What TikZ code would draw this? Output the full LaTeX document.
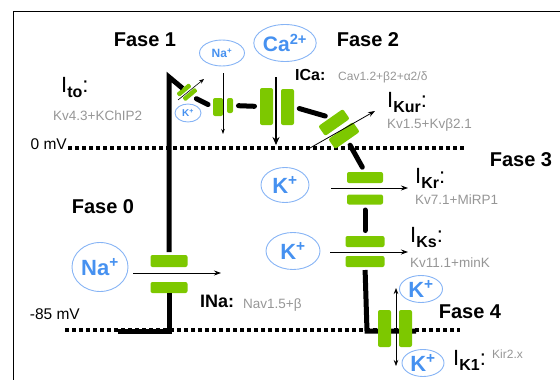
\documentclass[tikz,border=0pt]{standalone}
\usepackage{fontspec}
\setmainfont{Liberation Sans}
\usetikzlibrary{shapes.geometric, arrows.meta, positioning}
\definecolor{chgreen}{RGB}{125,200,0}
\definecolor{ionblue}{RGB}{70,145,240}
\definecolor{ionring}{RGB}{135,180,245}
\definecolor{genegray}{RGB}{150,150,150}
\newcommand{\cur}[1]{\fontsize{22}{24}\selectfont I\raisebox{-5pt}{\fontsize{16}{18}\selectfont\bfseries #1}:}
\tikzset{
  gate/.style={fill=chgreen, rounded corners=2pt, inner sep=0pt, outer sep=0pt},
  ion/.style={ellipse, draw=ionring, line width=0.9pt, text=ionblue, inner sep=0pt},
  phase/.style={font=\fontsize{20}{22}\selectfont\bfseries},
  gene/.style={anchor=base west, inner sep=0pt, text=genegray, font=\fontsize{13.5}{15}\selectfont},
  curlbl/.style={anchor=base west, inner sep=0pt},
  mvlbl/.style={anchor=base east, inner sep=0pt, font=\fontsize{15.5}{17}\selectfont},
  flux/.style={line width=0.8pt, -{Stealth[length=7pt, width=5pt]}},
  ap/.style={line width=5pt},
  link/.style={ap, line cap=round, shorten <=5.5pt, shorten >=5.5pt},
  mvline/.style={line width=3.3pt, dash pattern=on 4pt off 3pt}
}

\begin{document}
\begin{tikzpicture}[x=1pt, y=-1pt]
    \useasboundingbox (0,0) rectangle (560,380);
    \draw[line width=1pt] (13,380) -- (13,11) -- (560,11);

    % potential levels
    \coordinate (zeroL) at (68,148);
    \coordinate (zeroR) at (464,148);
    \coordinate (restL) at (65,330);
    \coordinate (restR) at (460,330);
    \draw[mvline] (zeroL) -- (zeroR);
    \draw[mvline] (restL) -- (restR);
    \node[mvlbl] (zeroLbl) at (67,149) {0 mV};
    \node[mvlbl] (restLbl) at (80,319) {-85 mV};

    % channels
    \node[gate, minimum width=37pt, minimum height=12pt] (naA) at (169,261) {};
    \node[gate, minimum width=37pt, minimum height=11pt] (naB) at (169,287.5) {};
    \node[gate, minimum width=16pt, minimum height=4.5pt, rounded corners=1pt, rotate=40] (itoA) at (184,90) {};
    \node[gate, minimum width=16pt, minimum height=4.5pt, rounded corners=1pt, rotate=40] (itoB) at (190,94.5) {};
    \node[gate, minimum width=10pt, minimum height=18pt] (nsA) at (218,107) {};
    \node[gate, minimum width=6pt, minimum height=15pt] (nsB) at (230,105.5) {};
    \node[gate, minimum width=13pt, minimum height=37pt] (caA) at (266.5,106.5) {};
    \node[gate, minimum width=13pt, minimum height=36pt] (caB) at (287.5,107) {};
    \node[gate, minimum width=30pt, minimum height=12pt, rotate=35] (kurA) at (334,122.5) {};
    \node[gate, minimum width=30pt, minimum height=12pt, rotate=35] (kurB) at (344,135.5) {};
    \node[gate, minimum width=36pt, minimum height=11pt] (krA) at (365,177.5) {};
    \node[gate, minimum width=36pt, minimum height=10pt] (krB) at (365,199.5) {};
    \node[gate, minimum width=39pt, minimum height=11pt] (ksA) at (365,241.5) {};
    \node[gate, minimum width=39pt, minimum height=11pt] (ksB) at (365,261.5) {};

    % action potential
    \coordinate (start) at (118,331);
    \coordinate (foot) at (169,331);
    \coordinate (peak) at (169,77);
    \coordinate (bend) at (367,331);
    \coordinate (tail) at (416,331);
    \draw[ap] (start) -- (foot) -- (naB.south);
    \draw[ap, shorten <=3pt] (naA.north) -- (peak) -- (itoA.north);
    \draw[link] (itoB.south) -- (nsA.west);
    \draw[link] (nsB.east) -- (caA.west);
    \draw[link] (caB.east) -- (kurA.north);
    \draw[link] (kurB.south) -- (krA.north);
    \draw[link] (krB.south) -- (ksA.north);
    \draw[ap, shorten <=3pt] (ksB.south) -- (bend) -- (tail);

    \node[gate, minimum width=13pt, minimum height=37pt] (kiA) at (384.5,328.5) {};
    \node[gate, minimum width=13pt, minimum height=37pt] (kiB) at (405.5,328.5) {};

    % ion fluxes
    \coordinate (naIn) at (133,273);
    \coordinate (naOut) at (221,273);
    \coordinate (itoIn) at (178,100);
    \coordinate (itoOut) at (204,79);
    \coordinate (nsIn) at (223,73);
    \coordinate (nsOut) at (223,134);
    \coordinate (caIn) at (276,77);
    \coordinate (caOut) at (276,145);
    \coordinate (kurIn) at (310,148);
    \coordinate (kurOut) at (375,111);
    \coordinate (krIn) at (331,188);
    \coordinate (krOut) at (408,188);
    \coordinate (ksIn) at (330,252);
    \coordinate (ksOut) at (408,252);
    \coordinate (kiUp) at (396,288);
    \coordinate (kiDn) at (396,366);
    \draw[flux] (naIn) -- (naOut);
    \draw[flux, line width=0.6pt, -{Stealth[length=5pt, width=4pt]}] (itoIn) -- (itoOut);
    \draw[flux, line width=0.6pt, -{Stealth[length=5pt, width=3.5pt]}] (nsIn) -- (nsOut);
    \draw[flux, line width=1.5pt, -{Stealth[length=8pt, width=7pt]}] (caIn) -- (caOut);
    \draw[flux] (kurIn) -- (kurOut);
    \draw[flux] (krIn) -- (krOut);
    \draw[flux] (ksIn) -- (ksOut);
    \draw[flux, line width=0.7pt, {Stealth[length=6pt, width=4.5pt]}-{Stealth[length=6pt, width=4.5pt]}] (kiUp) -- (kiDn);

    % phases
    \node[phase] (ph1) at (145,40) {Fase 1};
    \node[phase] (ph2) at (368,40) {Fase 2};
    \node[phase] (ph3) at (521,160) {Fase 3};
    \node[phase] (ph0) at (103,207) {Fase 0};
    \node[phase] (ph4) at (470,312) {Fase 4};

    % currents
    \node[curlbl] (ito) at (61,92) {\cur{to}};
    \node[curlbl] (iKur) at (387,107) {\cur{Kur}};
    \node[curlbl] (iKr) at (415,183) {\cur{Kr}};
    \node[curlbl] (iKs) at (410,242) {\cur{Ks}};
    \node[curlbl] (iK1) at (453,365) {\cur{K1}};
    \node[curlbl, font=\fontsize{18}{20}\selectfont\bfseries] (iNa) at (200,307) {INa:};
    \node[curlbl, font=\fontsize{16}{18}\selectfont\bfseries] (iCa) at (295,80) {ICa:};

    % subunits
    \node[gene] (itoGene) at (53,120) {Kv4.3+KChIP2};
    \node[gene, font=\fontsize{12}{14}\selectfont] (caGene) at (338,80) {Cav1.2+β2+α2/δ};
    \node[gene] (kurGene) at (387,128) {Kv1.5+Kvβ2.1};
    \node[gene] (krGene) at (415,204) {Kv7.1+MiRP1};
    \node[gene] (ksGene) at (410,267) {Kv11.1+minK};
    \node[gene, font=\fontsize{12}{14}\selectfont] (kiGene) at (492,358) {Kir2.x};
    \node[gene] (naGene) at (243,308) {Nav1.5+β};

    % ions
    \node[ion, minimum width=56pt, minimum height=49pt, font=\fontsize{22}{24}\selectfont\bfseries] (naIon) at (100,267) {Na\textsuperscript{+}};
    \node[ion, minimum width=58pt, minimum height=37pt, font=\fontsize{21}{23}\selectfont\bfseries] (caIon) at (285,43) {Ca\textsuperscript{2+}};
    \node[ion, minimum width=45pt, minimum height=26pt, font=\fontsize{12}{14}\selectfont\bfseries] (nsIon) at (222,53) {Na\textsuperscript{+}};
    \node[ion, minimum width=26pt, minimum height=18pt, font=\fontsize{10}{12}\selectfont\bfseries] (itoIon) at (188,113) {K\textsuperscript{+}};
    \node[ion, minimum width=48pt, minimum height=35pt, font=\fontsize{22}{24}\selectfont\bfseries] (krIon) at (285,185) {K\textsuperscript{+}};
    \node[ion, minimum width=54pt, minimum height=37pt, font=\fontsize{22}{24}\selectfont\bfseries] (ksIon) at (293,251) {K\textsuperscript{+}};
    \node[ion, minimum width=43pt, minimum height=27pt, font=\fontsize{22}{24}\selectfont\bfseries] (kiIonUp) at (421,289) {K\textsuperscript{+}};
    \node[ion, minimum width=42pt, minimum height=27pt, font=\fontsize{22}{24}\selectfont\bfseries] (kiIonDn) at (423,363) {K\textsuperscript{+}};
\end{tikzpicture}
\end{document}
